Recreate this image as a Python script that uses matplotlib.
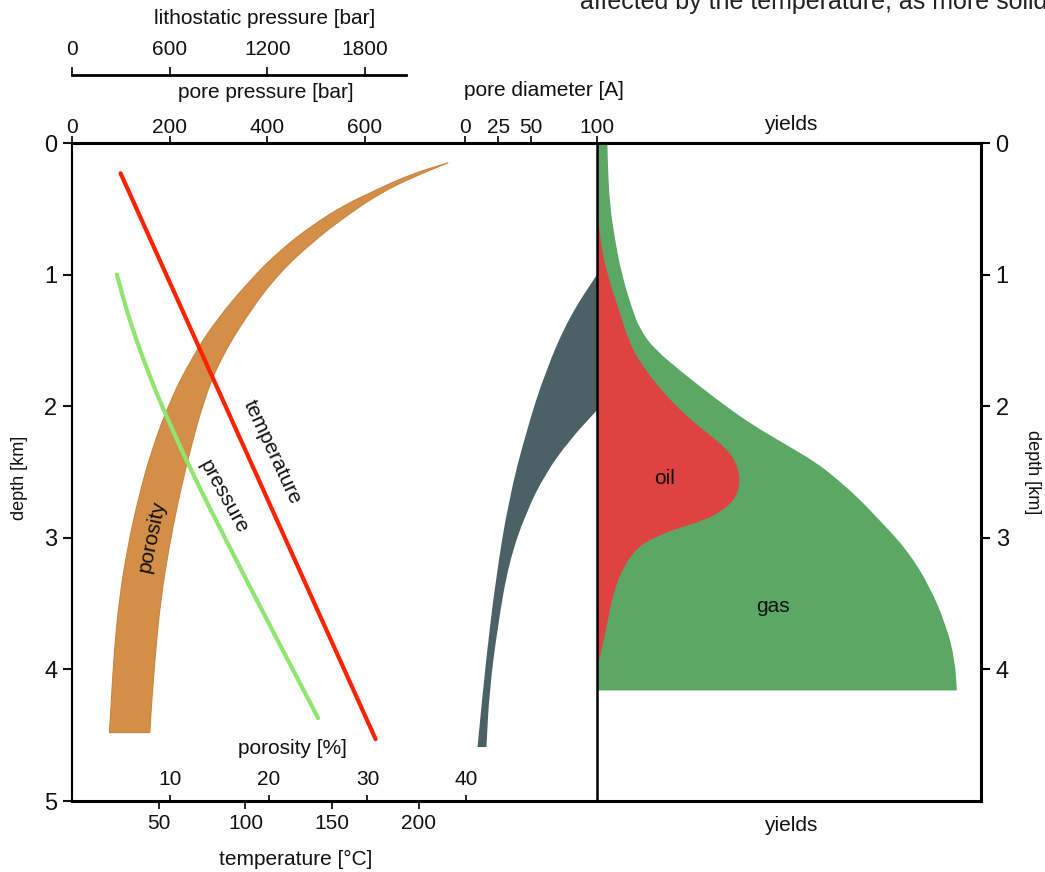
import matplotlib
matplotlib.use("Agg")
import matplotlib.pyplot as plt
from matplotlib.patches import PathPatch
from matplotlib.path import Path

plt.rcParams["font.family"] = ["Liberation Sans", "DejaVu Sans"]

W, H = 1045, 872

# ── data ───────────────────────────────────────────────────────────
depth_ticks = [0, 1, 2, 3, 4, 5]
yield_depth_ticks = [0, 1, 2, 3, 4]
pp_ticks = [0, 200, 400, 600]
litho_ticks = [0, 600, 1200, 1800]
diam_ticks = [0, 25, 50, 100]
temp_ticks = [50, 100, 150, 200]
poro_ticks = [10, 20, 30, 40]

# temperature [°C] vs depth [km]
temp_depth = [0.23, 4.53]
temp_vals = [28, 175]

# pore pressure [bar] vs depth
pres_depth = [1.0, 1.25, 1.5, 1.75, 2.0, 2.5, 3.0, 3.5, 4.0, 4.37]
pres_vals = [92, 110, 132, 157, 184, 245, 313, 382, 452, 504]

# porosity band [%], upper-left and lower-right edges
poro_left_depth = [0.15, 0.24, 0.36, 0.47, 0.62, 0.81, 1.04, 1.35, 1.63, 1.95, 2.33, 2.71,
                   3.09, 3.47, 3.85, 4.23, 4.48]
poro_left = [38.2, 34.3, 30.8, 27.7, 24.5, 21.2, 18.1, 14.6, 12.2, 10.0, 8.1, 6.7,
             5.6, 4.8, 4.3, 4.0, 3.8]
poro_right_depth = [0.15, 0.26, 0.38, 0.55, 0.74, 0.98, 1.29, 1.65, 1.95, 2.33, 2.71, 3.09,
                    3.47, 3.85, 4.23, 4.48]
poro_right = [38.2, 34.6, 31.3, 27.9, 24.6, 21.1, 17.9, 15.0, 13.4, 12.0, 10.8, 9.8,
              9.0, 8.5, 8.1, 7.9]

# pore diameter band [A]
diam_outer_depth = [1.0, 1.32, 1.73, 2.2, 2.71, 3.3, 3.93, 4.59]
diam_outer = [100, 79, 61, 46, 33, 23.3, 15.7, 9.3]
diam_inner_depth = [2.03, 2.26, 2.51, 2.81, 3.19, 3.68, 4.18, 4.59]
diam_inner = [100, 79, 61, 46, 33, 24.5, 18.2, 16.1]

# yields (relative units)
gas_depth = [0.0, 0.23, 0.48, 0.74, 0.99, 1.24, 1.42, 1.57, 1.75, 1.95, 2.13, 2.28, 2.43,
             2.56, 2.71, 2.87, 3.09, 3.37, 3.68, 3.93, 4.16]
gas_yield = [2.7, 2.9, 3.4, 4.7, 6.4, 8.9, 11.2, 15.1, 22.5, 31.2, 39.8, 48.5, 57.2,
             62.8, 68.5, 73.7, 80.7, 86.7, 91.1, 93.2, 93.7]
oil_depth = [0.56, 0.81, 1.07, 1.29, 1.5, 1.67, 1.9, 2.1, 2.26, 2.38, 2.54, 2.69, 2.79,
             2.87, 2.93, 3.0, 3.08, 3.22, 3.42, 3.68, 3.9, 3.98]
oil_yield = [0.3, 1.2, 3.4, 6.0, 8.2, 11.2, 17.3, 24.2, 31.2, 35.5, 37.4, 36.4, 32.9,
             27.7, 20.8, 14.7, 10.3, 6.9, 4.2, 2.5, 0.8, 0.0]

C_PORO = "#D38F48"
C_DIAM = "#4A6266"
C_GAS = "#5BA865"
C_OIL = "#DF4341"
C_TEMP = "#FF2200"
C_PRES = "#8EE66E"
C_TXT = "#111111"
FS = 15


def box(x0, y0, x1, y1):
    return [x0 / W, 1 - y1 / H, (x1 - x0) / W, (y1 - y0) / H]


def label(x, y, s, **kw):
    kw.setdefault("fontsize", FS)
    fig.text(x / W, 1 - y / H, s, ha="center", va="center", color=C_TXT, **kw)


def smooth(xs, ys, first=Path.MOVETO):
    # quadratic bezier through midpoints of the digitised polyline
    pts = list(zip(xs, ys))
    verts, codes = [pts[0]], [first]
    if len(pts) > 2:
        verts.append(((pts[0][0] + pts[1][0]) / 2, (pts[0][1] + pts[1][1]) / 2))
        codes.append(Path.LINETO)
        for i in range(1, len(pts) - 1):
            nxt = pts[i + 1]
            verts += [pts[i], ((pts[i][0] + nxt[0]) / 2, (pts[i][1] + nxt[1]) / 2)]
            codes += [Path.CURVE3, Path.CURVE3]
    verts.append(pts[-1])
    codes.append(Path.LINETO)
    return verts, codes


def band(a, x1, y1, x2, y2, **kw):
    v1, c1 = smooth(x1, y1)
    v2, c2 = smooth(x2, y2, first=Path.LINETO)
    verts = v1 + v2 + [v1[0]]
    codes = c1 + c2 + [Path.CLOSEPOLY]
    a.add_patch(PathPatch(Path(verts, codes), **kw))


def curve(a, xs, ys, **kw):
    v, c = smooth(xs, ys)
    a.add_patch(PathPatch(Path(v, c), fill=False, **kw))


fig = plt.figure(figsize=(W / 100, H / 100), dpi=100)

# ── left panel: porosity is the base axes ──────────────────────────
ax = fig.add_axes(box(72, 143, 597, 801))
ax.set_xlim(0, 525 / 9.85)
ax.set_ylim(5, 0)
band(ax, poro_left, poro_left_depth, poro_right[::-1], poro_right_depth[::-1],
     fc=C_PORO, ec="#C9853F", lw=0.8, zorder=1)
ax.set_yticks(depth_ticks)
ax.tick_params(axis="y", labelsize=17, length=6.5, width=1.5, pad=4, colors=C_TXT)
ax.set_xticks(poro_ticks)
ax.tick_params(axis="x", direction="in", length=4.5, width=1.2, pad=-22, labelsize=FS,
               labelcolor=C_TXT)
for side in ["top", "bottom"]:
    ax.spines[side].set_linewidth(2.2)
ax.spines["left"].set_linewidth(1.5)
ax.spines["right"].set_visible(False)

# pore pressure on top
ax_pp = ax.twiny()
ax_pp.set_xlim(0, 525 / 0.4883)
curve(ax_pp, pres_vals, pres_depth, color=C_PRES, lw=3, capstyle="round")
ax_pp.set_xticks(pp_ticks)
ax_pp.tick_params(axis="x", length=5, width=1.2, pad=-0.5, labelsize=FS, labelcolor=C_TXT)

# temperature at bottom
ax_T = ax.twiny()
ax_T.xaxis.set_ticks_position("bottom")
ax_T.set_xlim(0, 525 / 1.735)
ax_T.plot(temp_vals, temp_depth, color=C_TEMP, lw=3, solid_capstyle="round")
ax_T.set_xticks(temp_ticks)
ax_T.tick_params(axis="x", length=6, width=1.2, pad=3.5, labelsize=FS, labelcolor=C_TXT)

# pore diameter on top
ax_d = ax.twiny()
ax_d.set_xlim(-298.5, 100)
band(ax_d, diam_outer, diam_outer_depth, diam_inner[::-1], diam_inner_depth[::-1],
     fc=C_DIAM, lw=0)
ax_d.set_xticks(diam_ticks)
ax_d.tick_params(axis="x", length=5, width=1.2, pad=-0.5, labelsize=FS, labelcolor=C_TXT)

for a in [ax_pp, ax_T, ax_d]:
    for sp in a.spines.values():
        sp.set_visible(False)

# ── right panel: yields ────────────────────────────────────────────
ax_y = fig.add_axes(box(597, 143, 981, 801))
ax_y.set_xlim(0, 100)
ax_y.set_ylim(5, 0)
band(ax_y, gas_yield, gas_depth, [0, 0], [gas_depth[-1], gas_depth[0]], fc=C_GAS, lw=0)
band(ax_y, oil_yield, oil_depth, [0, 0], [oil_depth[-1], oil_depth[0]], fc=C_OIL, lw=0)
ax_y.set_xticks([])
ax_y.yaxis.tick_right()
ax_y.set_yticks(yield_depth_ticks)
ax_y.tick_params(axis="y", labelsize=17, length=6.5, width=1.5, pad=4, labelcolor=C_TXT)
for side in ["top", "bottom", "right"]:
    ax_y.spines[side].set_linewidth(2.2)
ax_y.spines["left"].set_linewidth(1.8)

# ── lithostatic pressure scale ─────────────────────────────────────
ax_l = fig.add_axes(box(72, 75, 406, 80))
ax_l.set_xlim(0, 334 / 0.4883 * 3)
ax_l.patch.set_visible(False)
for side in ["left", "right", "bottom"]:
    ax_l.spines[side].set_visible(False)
ax_l.spines["top"].set_linewidth(2.0)
ax_l.set_yticks([])
ax_l.xaxis.tick_top()
ax_l.set_xticks(litho_ticks)
ax_l.tick_params(axis="x", length=6, width=1.2, pad=5.3, labelsize=FS, labelcolor=C_TXT)

# ── labels ─────────────────────────────────────────────────────────
label(265, 18, "lithostatic pressure [bar]")
label(266, 93, "pore pressure [bar]")
label(544, 90, "pore diameter [A]")
label(791, 125, "yields")
label(791, 825, "yields")
label(296, 859, "temperature [°C]")
label(292, 748, "porosity [%]")
label(20, 478, "depth [km]", rotation=90, fontsize=13)
label(1033, 472, "depth [km]", rotation=-90, fontsize=13)
label(272, 452, "temperature", rotation=-65)
label(224, 497, "pressure", rotation=-61)
label(152, 536, "porosity", rotation=78)
label(665, 478, "oil")
label(773, 606, "gas")
fig.text(580 / W, 1 - 9 / H, "affected by the temperature, as more solid", fontsize=18,
         color="#222222", ha="left", va="baseline")

fig.savefig("out.png", dpi=100)
